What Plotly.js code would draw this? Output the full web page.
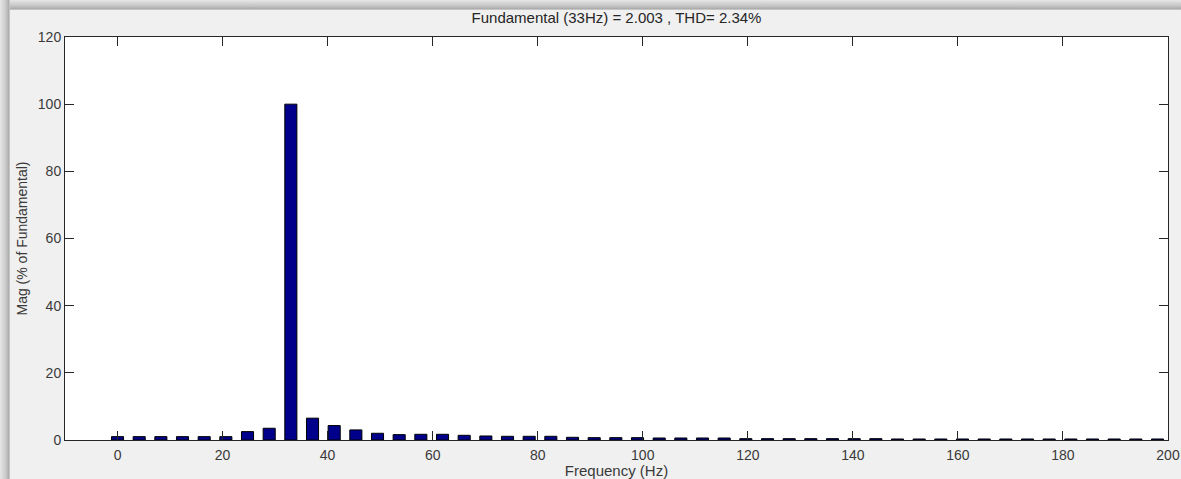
<!DOCTYPE html>
<html>
<head>
<meta charset="utf-8">
<script src="https://cdn.plot.ly/plotly-3.0.1.min.js"></script>
<style>
  html, body { margin: 0; padding: 0; width: 1181px; height: 479px; overflow: hidden;
    background: linear-gradient(to bottom, #e6e6e6 0px, #c4c4c4 6px, #a9a9a9 9px, #e0e0e0 10px); }
  #frame { position: absolute; left: 0; top: 0; width: 10px; height: 479px;
    background: linear-gradient(to right, #e6e6e6 0px, #c8c8c8 6px, #a9a9a9 9px, #e0e0e0 10px); }
  #chart { position: absolute; left: 10px; top: 10px; width: 1171px; height: 469px; background: #f0f0f0; }
</style>
</head>
<body>
<div id="frame"></div>
<div id="chart"></div>
<script>
// Harmonic frequencies (Hz): bins spaced at 33/8 Hz
const binIndex = [0,1,2,3,4,5,6,7,8,9,10,11,12,13,14,15,16,17,18,19,20,21,22,23,24,25,26,27,28,29,30,31,32,33,34,35,36,37,38,39,40,41,42,43,44,45,46,47,48];
const binStep = 4.125;
// Magnitude (% of fundamental)
const magnitude = [1.0,1.0,1.0,1.0,1.0,1.0,2.5,3.5,100,6.5,4.3,3.0,2.0,1.6,1.7,1.7,1.4,1.2,1.1,1.1,1.1,0.8,0.7,0.7,0.7,0.6,0.6,0.6,0.6,0.4,0.4,0.4,0.4,0.4,0.4,0.4,0.3,0.3,0.3,0.3,0.3,0.3,0.3,0.3,0.3,0.3,0.3,0.3,0.3];
const xTicks = [0,20,40,60,80,100,120,140,160,180,200];
const yTicks = [0,20,40,60,80,100,120];
const titleText = "Fundamental (33Hz) = 2.003 , THD= 2.34%";

const freq = binIndex.map(k => k * binStep);

const trace = {
  type: 'bar',
  x: freq,
  y: magnitude,
  width: 2.3,
  marker: { color: '#00008b', line: { color: '#000000', width: 1 } },
  hoverinfo: 'x+y'
};

const fontFam = 'Arial, "Liberation Sans", Helvetica, sans-serif';
const layout = {
  width: 1171, height: 469,
  margin: { l: 55, r: 13, t: 27, b: 39, pad: 0 },
  paper_bgcolor: '#f0f0f0',
  plot_bgcolor: '#ffffff',
  showlegend: false,
  bargap: 0,
  title: { text: titleText, font: { family: fontFam, size: 15, color: '#262626' },
           x: 0.5, xref: 'paper', xanchor: 'center', y: 0.983, yref: 'container', yanchor: 'middle', pad: {t:0,b:0} },
  xaxis: {
    range: [-10, 200], tickvals: xTicks, ticktext: xTicks.map(String),
    ticks: 'inside', ticklen: 9, tickwidth: 1, tickcolor: '#262626',
    showline: true, linecolor: '#262626', linewidth: 1, mirror: 'ticks',
    showgrid: false, zeroline: false, ticklabelstandoff: 2,
    tickfont: { family: fontFam, size: 14, color: '#3a3a3a' },
    title: { text: 'Frequency (Hz)', font: { family: fontFam, size: 15, color: '#3a3a3a' }, standoff: 3 }
  },
  yaxis: {
    range: [0, 120], tickvals: yTicks, ticktext: yTicks.map(String),
    ticks: 'inside', ticklen: 9, tickwidth: 1, tickcolor: '#262626',
    showline: true, linecolor: '#262626', linewidth: 1, mirror: 'ticks',
    showgrid: false, zeroline: false,
    tickfont: { family: fontFam, size: 14, color: '#3a3a3a' },
    title: { text: 'Mag (% of Fundamental)', font: { family: fontFam, size: 14, color: '#3a3a3a' }, standoff: 6 }
  }
};

Plotly.newPlot('chart', [trace], layout, { displayModeBar: false, staticPlot: true });
</script>
</body>
</html>
